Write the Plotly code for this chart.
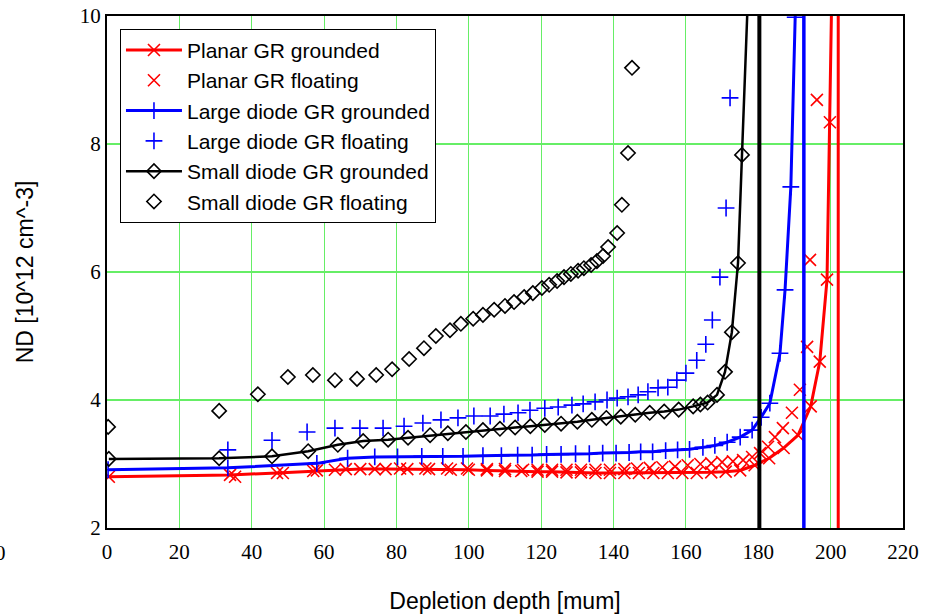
import plotly.graph_objects as go

# ---------------- data ----------------
# Planar GR grounded (line with x markers)
planar_gnd_x = [0.5, 34, 47, 57, 63, 70, 77, 83, 89, 95, 100, 105, 110, 114.5, 119, 123, 127, 131, 135,
                139, 143, 147, 151, 155, 159, 163, 167, 171, 175, 179, 183, 187, 191, 194.5, 197, 199, 199.8, 200.5]
planar_gnd_y = [2.80, 2.83, 2.86, 2.89, 2.91, 2.92, 2.92, 2.92, 2.92, 2.91, 2.91, 2.90, 2.89, 2.89, 2.88, 2.88, 2.87, 2.87, 2.86,
                2.86, 2.86, 2.86, 2.86, 2.86, 2.86, 2.86, 2.87, 2.88, 2.90, 2.98, 3.09, 3.25, 3.45, 3.90, 4.60, 5.88, 8.34, 11.0]
# Planar GR floating (x markers)
planar_flt_x = [35.4, 48.6, 58, 66, 74, 81, 88, 94, 99.5, 105, 110, 115, 119, 123, 127, 131, 135, 139, 143,
                146.5, 150, 153.5, 157, 160.5, 164, 167, 170, 173, 175.8, 178.3, 180.5, 182.7, 184.6, 186.8,
                189.3, 191.5, 193.5, 194.3, 196.2]
planar_flt_y = [2.80, 2.86, 2.90, 2.92, 2.92, 2.93, 2.93, 2.93, 2.93, 2.92, 2.92, 2.91, 2.91, 2.91, 2.91, 2.91, 2.91, 2.91, 2.92,
                2.93, 2.94, 2.95, 2.96, 2.98, 3.00, 3.01, 3.03, 3.04, 3.06, 3.11, 3.17, 3.27, 3.42, 3.56,
                3.80, 4.16, 4.83, 6.19, 8.69]
# Large diode GR grounded (line with + markers)
large_gnd_x = [0.3, 33.4, 58, 66.5, 74, 80.3, 87, 92.8, 98.4, 103.9, 109, 113.5, 117.5, 121.5, 125.5, 129.5, 133.3, 137,
               140.7, 144.3, 147.5, 150.8, 154.4, 157.7, 161, 164.7, 168, 171.4, 175, 178.3, 180.8, 183.2, 186, 187.4,
               189, 190.2, 190.6]
large_gnd_y = [2.91, 2.94, 3.01, 3.09, 3.11, 3.11, 3.12, 3.12, 3.12, 3.13, 3.13, 3.14, 3.14, 3.15, 3.15, 3.16, 3.16, 3.17,
               3.17, 3.18, 3.19, 3.19, 3.21, 3.22, 3.23, 3.26, 3.29, 3.34, 3.42, 3.53, 3.73, 3.95, 4.73, 5.72,
               7.33, 9.98, 11.0]
# Large diode GR floating (+ markers)
large_flt_x = [33.4, 45.6, 55.3, 63, 69.9, 76.3, 82.1, 87.3, 92.3, 97, 101.4, 105.9, 109.7, 113.6, 116.9, 121, 124.7,
               128.5, 131.6, 134.9, 138.2, 141, 144, 146.8, 149.5, 152.3, 155, 157.5, 160, 163, 165.5, 167.3,
               169.4, 171.1, 172.2]
large_flt_y = [3.22, 3.37, 3.50, 3.56, 3.56, 3.56, 3.59, 3.64, 3.69, 3.72, 3.75, 3.75, 3.78, 3.80, 3.84, 3.87, 3.89,
               3.92, 3.94, 3.97, 4.00, 4.03, 4.05, 4.08, 4.13, 4.19, 4.20, 4.31, 4.42, 4.62, 4.87, 5.25,
               5.92, 7.00, 8.72]
# Small diode GR grounded (line with diamond markers)
small_gnd_x = [0.5, 31, 45.6, 55.6, 63.8, 70.8, 77.7, 83.2, 89.3, 94.2, 99.2, 103.9, 108.6, 112.8, 117, 121, 125.5,
               130, 134, 138, 142, 146, 150, 154, 158, 162, 164, 166, 168.6, 170.8, 172.7, 174.4, 175.5, 177.2]
small_gnd_y = [3.08, 3.09, 3.12, 3.20, 3.30, 3.36, 3.38, 3.41, 3.45, 3.48, 3.50, 3.53, 3.55, 3.57, 3.59, 3.61, 3.63,
               3.66, 3.69, 3.72, 3.74, 3.77, 3.80, 3.82, 3.85, 3.90, 3.93, 3.96, 4.08, 4.44, 5.06, 6.14, 7.83, 10.4]
# Small diode GR floating (diamond markers)
small_flt_x = [0.3, 31.0, 41.7, 50.0, 56.9, 63.0, 69.1, 74.4, 78.8, 83.5, 87.6, 90.9, 94.8, 97.8, 101.2, 103.9, 107.0,
               110.0, 112.5, 115.3, 117.7, 120.2, 122.2, 124.4, 126.3, 128.2, 130.2, 131.8, 133.8, 135.4, 137.1,
               138.5, 141.0, 142.3, 144.0, 145.1]
small_flt_y = [3.58, 3.83, 4.09, 4.36, 4.39, 4.31, 4.33, 4.39, 4.48, 4.64, 4.81, 5.00, 5.09, 5.19, 5.27, 5.33, 5.41,
               5.47, 5.53, 5.61, 5.67, 5.75, 5.80, 5.86, 5.92, 5.97, 6.02, 6.06, 6.11, 6.17, 6.25,
               6.39, 6.61, 7.05, 7.86, 9.19]
# Full-depletion lines (black, blue, red)
full_depl_x = [180.3, 192.6, 202.1]
full_depl_colors = ["#000000", "#0000ff", "#ff0000"]
full_depl_widths = [4, 3.5, 3]

x_ticks = [0, 20, 40, 60, 80, 100, 120, 140, 160, 180, 200, 220]
y_ticks = [2, 4, 6, 8, 10]

RED, BLUE, BLACK = "#ff0000", "#0000ff", "#000000"
SANS = "Liberation Sans"
SERIF = "Liberation Serif"

# ---------------- figure ----------------
fig = go.Figure()

fig.add_trace(go.Scatter(x=planar_gnd_x, y=planar_gnd_y, mode="lines+markers", name="Planar GR grounded",
                         line=dict(color=RED, width=3),
                         marker=dict(symbol="x-thin-open", size=12, color=RED, line=dict(color=RED, width=1.6))))
fig.add_trace(go.Scatter(x=planar_flt_x, y=planar_flt_y, mode="markers", name="Planar GR floating",
                         marker=dict(symbol="x-thin-open", size=12, color=RED, line=dict(color=RED, width=1.6))))
fig.add_trace(go.Scatter(x=large_gnd_x, y=large_gnd_y, mode="lines+markers", name="Large diode GR grounded",
                         line=dict(color=BLUE, width=3),
                         marker=dict(symbol="cross-thin-open", size=12, color=BLUE, line=dict(color=BLUE, width=1.6))))
fig.add_trace(go.Scatter(x=large_flt_x, y=large_flt_y, mode="markers", name="Large diode GR floating",
                         marker=dict(symbol="cross-thin-open", size=12, color=BLUE, line=dict(color=BLUE, width=1.6))))
fig.add_trace(go.Scatter(x=small_gnd_x, y=small_gnd_y, mode="lines+markers", name="Small diode GR grounded",
                         line=dict(color=BLACK, width=2.5),
                         marker=dict(symbol="diamond-open", size=11, color=BLACK, line=dict(color=BLACK, width=1.6))))
fig.add_trace(go.Scatter(x=small_flt_x, y=small_flt_y, mode="markers", name="Small diode GR floating",
                         marker=dict(symbol="diamond-open", size=11, color=BLACK, line=dict(color=BLACK, width=1.6))))

for xv, c, w in zip(full_depl_x, full_depl_colors, full_depl_widths):
    fig.add_trace(go.Scatter(x=[xv, xv], y=[y_ticks[0], y_ticks[-1]], mode="lines", showlegend=False,
                             line=dict(color=c, width=w), hoverinfo="skip"))

fig.update_layout(
    width=941, height=614,
    margin=dict(l=107, r=38, t=16, b=86),
    paper_bgcolor="white", plot_bgcolor="white",
    font=dict(family=SANS),
    showlegend=True,
    legend=dict(x=0.0163, y=0.975, xanchor="left", yanchor="top",
                bgcolor="white", bordercolor="black", borderwidth=1,
                font=dict(family=SANS, size=21, color="black"),
                itemwidth=56, tracegroupgap=0),
    xaxis=dict(range=[0, 220], tickvals=x_ticks, showgrid=True, gridcolor="#66ee66", gridwidth=1,
               zeroline=False, showline=True, linecolor="black", linewidth=2, mirror=True, ticks="",
               ticklabelstandoff=4, automargin=False,
               tickfont=dict(family=SERIF, size=21, color="black"),
               title=dict(text="Depletion depth [mum]", standoff=30,
                          font=dict(family=SANS, size=23, color="black"))),
    yaxis=dict(range=[2, 10], tickvals=y_ticks, showgrid=True, gridcolor="#66ee66", gridwidth=2,
               zeroline=False, showline=True, linecolor="black", linewidth=2, mirror=True, ticks="",
               automargin=False,
               tickfont=dict(family=SERIF, size=21, color="black"),
               title=dict(text="ND [10^12 cm^-3]", standoff=40,
                          font=dict(family=SANS, size=23, color="black"))),
    annotations=[dict(text="0", xref="paper", yref="paper", x=-0.1335, y=-0.048, showarrow=False,
                      xanchor="center", yanchor="middle",
                      font=dict(family=SERIF, size=21, color="black"))],
)

fig.write_html("out.html")
